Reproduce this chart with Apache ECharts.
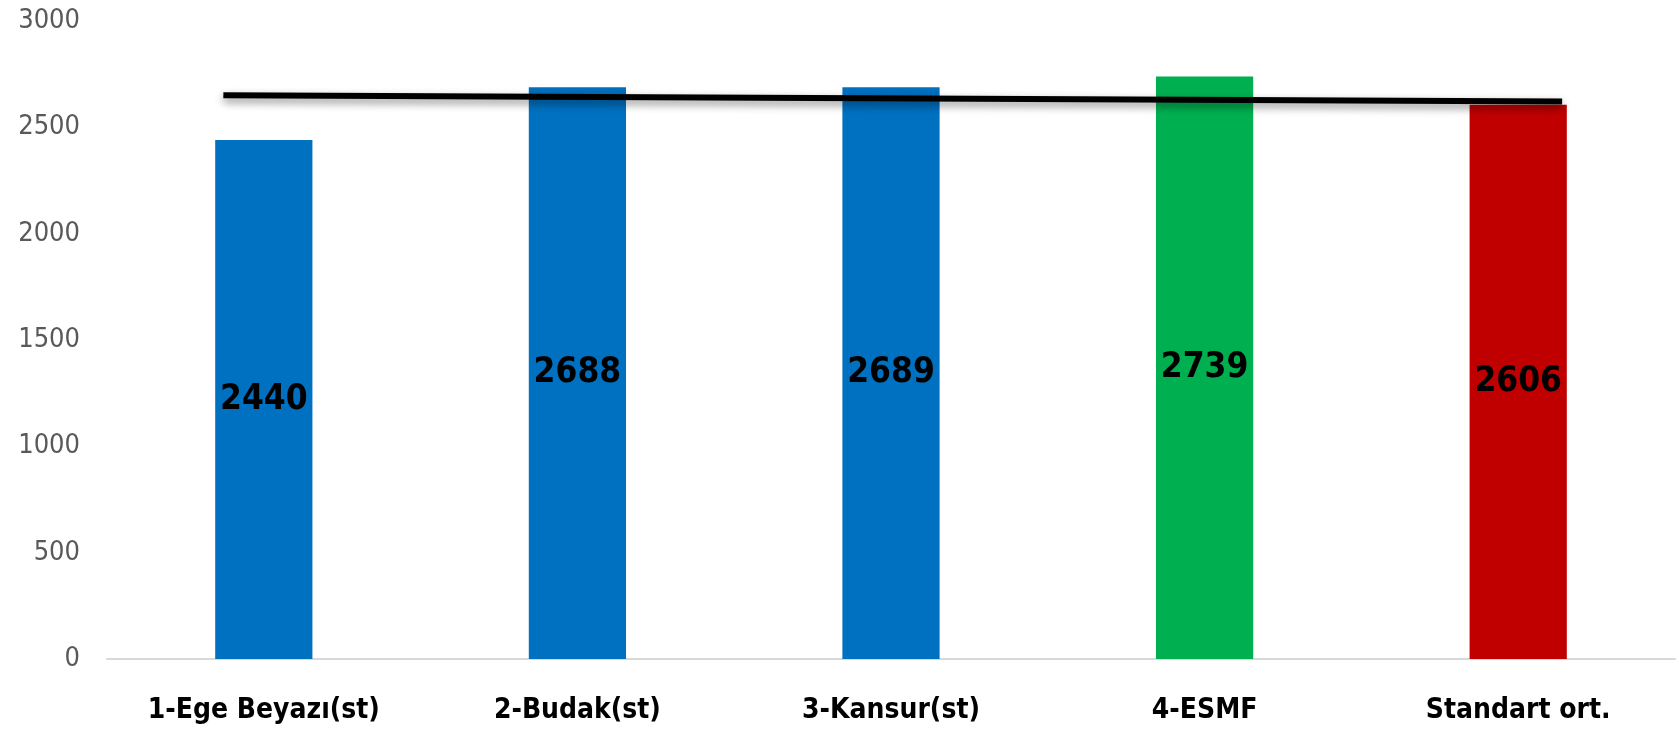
<!DOCTYPE html>
<html>
<head>
<meta charset="utf-8">
<script src="https://cdn.jsdelivr.net/npm/echarts@6/dist/echarts.min.js"></script>
<style>
html,body{margin:0;padding:0;background:#fff;}
#chart{width:1679px;height:734px;}
</style>
</head>
<body>
<div id="chart"></div>
<script>
// Data
const categories = ['1-Ege Beyazı(st)', '2-Budak(st)', '3-Kansur(st)', '4-ESMF', 'Standart ort.'];
const values = [2440, 2688, 2689, 2739, 2606];
const yTicks = [0, 500, 1000, 1500, 2000, 2500, 3000];
// hand-drawn reference line: [position along category axis (0..5), value]
const refLineX = [0.371, 4.64];
const refLineY = [2651, 2622];

// Styles
const barColors = ['#0070C0', '#0070C0', '#0070C0', '#00B050', '#C00000'];
const FONT = "'DejaVu Sans Condensed', 'Liberation Sans', sans-serif";

const chart = echarts.init(document.getElementById('chart'), null, {renderer: 'canvas'});
chart.setOption({
  animation: false,
  backgroundColor: '#ffffff',
  grid: {left: 107, right: 4, top: 21, bottom: 75, containLabel: false},
  xAxis: [
    {
      type: 'category',
      data: categories,
      axisLine: {show: true, lineStyle: {color: '#D9D9D9', width: 2}},
      axisTick: {show: false},
      axisLabel: {
        interval: 0,
        color: '#000000', fontFamily: FONT, fontWeight: 'bold', fontSize: 28,
        margin: 38, lineHeight: 28
      },
      splitLine: {show: false}
    },
    {
      type: 'value', min: 0, max: categories.length, show: false, position: 'bottom'
    }
  ],
  yAxis: {
    type: 'value',
    min: yTicks[0],
    max: yTicks[yTicks.length - 1],
    interval: yTicks[1] - yTicks[0],
    axisLine: {show: false},
    axisTick: {show: false},
    splitLine: {show: false},
    axisLabel: {
      color: '#595959', fontFamily: FONT, fontSize: 27, margin: 27,
      formatter: (v) => String(v)
    }
  },
  series: [
    {
      type: 'bar',
      xAxisIndex: 0,
      barWidth: '31%',
      data: values.map((v, i) => ({value: v, itemStyle: {color: barColors[i]}})),
      label: {
        show: true, position: 'inside', color: '#000000',
        fontFamily: FONT, fontWeight: 'bold', fontSize: 35
      },
      z: 2
    },
    {
      type: 'line',
      xAxisIndex: 1,
      data: refLineX.map((x, i) => [x, refLineY[i]]),
      symbol: 'none',
      lineStyle: {
        color: '#000000', width: 6,
        shadowColor: 'rgba(0,0,0,0.45)', shadowBlur: 8, shadowOffsetY: 4
      },
      z: 3
    }
  ]
});
</script>
</body>
</html>
